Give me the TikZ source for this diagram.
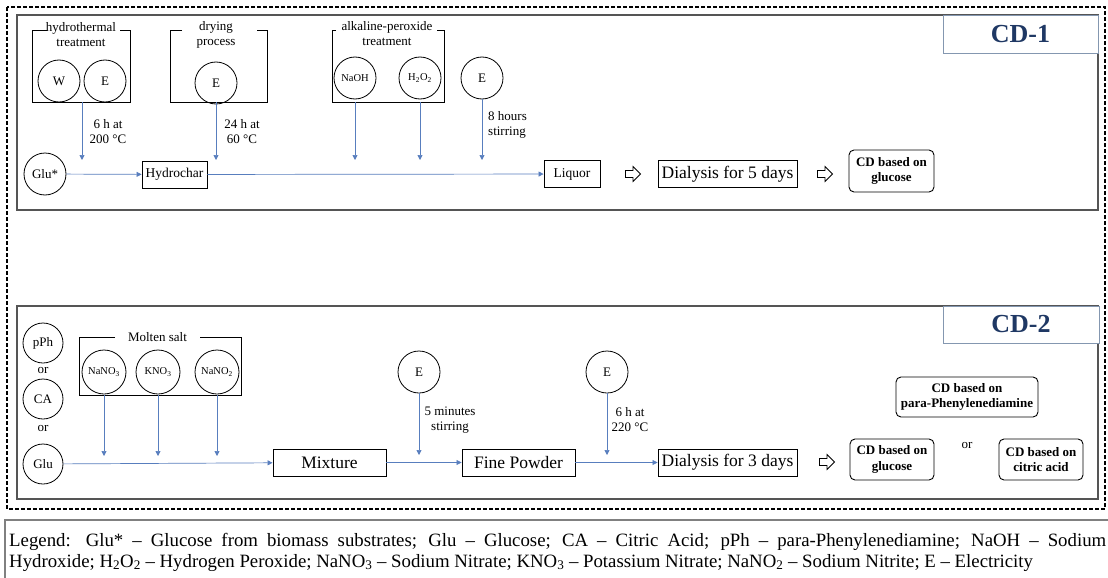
\documentclass[tikz,border=0pt]{standalone}
\usepackage{fontspec}
\setmainfont{Liberation Serif}
\usetikzlibrary{arrows.meta}
\definecolor{flowblue}{RGB}{88,126,190}
\definecolor{tabline}{RGB}{132,151,176}
\definecolor{navy}{RGB}{31,56,100}
\definecolor{panelgray}{RGB}{85,85,85}
\newcommand\fs[2]{\fontsize{#1}{#2}\selectfont}
\begin{document}
\begin{tikzpicture}[x=1pt,y=-1pt,
  circ/.style={circle,draw,line width=0.8pt,minimum size=42pt,inner sep=0pt,font=\fs{13}{15}},
  scirc/.style={circ,font=\fs{10.5}{12}},
  mcirc/.style={circ,minimum size=44pt,font=\fs{10.5}{12}},
  lcirc/.style={circ,minimum size=40pt},
  box/.style={draw,line width=0.9pt,inner sep=0pt,minimum height=27pt,font=\fs{13.5}{15}},
  bigbox/.style={box,font=\fs{17.5}{20}},
  cdbox/.style={draw,rounded corners=5pt,line width=0.9pt,inner sep=0pt,align=center,font=\bfseries\fs{13}{15.5}},
  grp/.style={draw,line width=0.9pt},
  lbl/.style={align=center,inner sep=0pt,font=\fs{13}{15}},
  flow/.style={draw=flowblue,line width=0.7pt,-{Triangle[length=5pt,width=5pt]}},
  hollowarr/.pic={\draw[line width=0.8pt,fill=white,line join=miter]
     (-7.5,-3.5) -- (0,-3.5) -- (0,-7.5) -- (7.5,0) -- (0,7.5) -- (0,3.5) -- (-7.5,3.5) -- cycle;},
  panel/.style={draw=panelgray,line width=1.6pt},
  tab/.style={draw=tabline,line width=0.9pt,fill=white,inner sep=0pt,text=navy,font=\bfseries\fs{26}{28}},
  legtext/.style={anchor=base west,inner sep=0pt,font=\fs{18.8}{21}}
]
\clip (0,0) rectangle (1108,578);
\fill[white] (0,0) rectangle (1108,578);

% outer dashed frame and panels
\draw[line width=1.1pt,dash pattern=on 4pt off 2pt] (7,7) rectangle (1105,509);
\draw[panel] (17,15) rectangle (1098,210);
\draw[panel] (17,306) rectangle (1098,499);
\node[tab,minimum width=155pt,minimum height=38pt] (cd1) at (1020.5,34) {CD-1};
\node[tab,minimum width=156pt,minimum height=37pt] (cd2) at (1021,324.5) {CD-2};

% ---------------- CD-1 ----------------
\draw[grp] (47,30) -- (32,30) -- (32,102) -- (130,102) -- (130,30) -- (120,30);
\node[lbl] (htl) at (81,35) {hydrothermal\\treatment};
\node[circ] (w) at (59,81) {W};
\node[circ] (e1) at (105,81) {E};
\coordinate (htb) at (82,102);
\coordinate (hte) at (82,160);

\draw[grp] (182,30) -- (170,30) -- (170,102) -- (267,102) -- (267,30) -- (257,30);
\node[lbl] (dpl) at (216,35) {drying\\process};
\node[circ] (e2) at (216,83) {E};
\coordinate (dpb) at (216,102);
\coordinate (dpe) at (216,160);

\draw[grp] (336,30) -- (332,30) -- (332,102) -- (444,102) -- (444,30) -- (437,30);
\node[lbl] (apl) at (387,34) {alkaline-peroxide\\treatment};
\node[scirc] (naoh) at (355,78) {NaOH};
\node[scirc] (h2o2) at (420,78) {H\textsubscript{2}O\textsubscript{2}};
\node[circ] (e3) at (482,78) {E};
\coordinate (nab) at (355,102);
\coordinate (nae) at (355,160);
\coordinate (hyb) at (420,102);
\coordinate (hye) at (420,160);
\coordinate (e3e) at (482,160);

\node[circ] (glus) at (45,174) {Glu*};
\node[box,minimum width=65pt] (hydrochar) at (174.5,174.5) {Hydrochar};
\node[box,minimum width=56pt] (liquor) at (572,174) {Liquor};
\node[bigbox,minimum width=139pt] (dial1) at (727.5,174) {Dialysis for 5 days};
\pic (ha1) at (633,174) {hollowarr};
\pic (ha2) at (825,174) {hollowarr};
\node[cdbox,minimum width=85pt,minimum height=42pt] (cdg1) at (891.5,171) {CD based on\\glucose};

\draw[flow] (htb) -- (hte);
\draw[flow] (dpb) -- (dpe);
\draw[flow] (nab) -- (nae);
\draw[flow] (hyb) -- (hye);
\draw[flow] (e3) -- (e3e);
\draw[flow] (glus) -- (hydrochar);
\draw[flow] (hydrochar) -- (liquor);

\node[lbl] (t1) at (108,132) {6 h at\\200 °C};
\node[lbl] (t2) at (242,132) {24 h at\\60 °C};
\node[lbl,align=left,anchor=west] (t3) at (488,125) {8 hours\\stirring};

% ---------------- CD-2 ----------------
\node[lcirc] (pph) at (43,343) {pPh};
\node[lbl] (or1) at (43,370) {or};
\node[lcirc] (ca) at (43,399) {CA};
\node[lbl] (or2) at (43,428) {or};
\node[lcirc] (glu) at (43,464) {Glu};

\draw[grp] (115,337) -- (79,337) -- (79,395) -- (241,395) -- (241,337) -- (200,337);
\node[lbl] (msl) at (157.5,337) {Molten salt};
\node[mcirc] (nano3) at (104,372) {NaNO\textsubscript{3}};
\node[mcirc] (kno3) at (158,372) {KNO\textsubscript{3}};
\node[mcirc] (nano2) at (217,372) {NaNO\textsubscript{2}};
\coordinate (n3b) at (104,395);
\coordinate (n3e) at (104,456);
\coordinate (k3b) at (158,395);
\coordinate (k3e) at (158,456);
\coordinate (n2b) at (217,395);
\coordinate (n2e) at (217,456);

\node[bigbox,minimum width=113pt] (mixture) at (329.5,462.5) {Mixture};
\node[bigbox,minimum width=113pt] (powder) at (518.5,462.5) {Fine Powder};
\node[bigbox,minimum width=139pt] (dial2) at (727.5,462.5) {Dialysis for 3 days};
\node[circ] (e4) at (419,372) {E};
\node[circ] (e5) at (607,372) {E};
\coordinate (e4e) at (419,455);
\coordinate (e5e) at (607,455);
\pic (ha3) at (827,462) {hollowarr};
\node[cdbox,minimum width=84pt,minimum height=41pt] (cdg2) at (892,459.5) {CD based on\\glucose};
\node[lbl] (or3) at (967,445) {or};
\node[cdbox,minimum width=84pt,minimum height=41pt] (cdc) at (1041,459.5) {CD based on\\citric acid};
\node[cdbox,minimum width=142pt,minimum height=40pt] (cdp) at (967,397) {CD based on\\para-Phenylenediamine};

\draw[flow] (n3b) -- (n3e);
\draw[flow] (k3b) -- (k3e);
\draw[flow] (n2b) -- (n2e);
\draw[flow] (e4) -- (e4e);
\draw[flow] (e5) -- (e5e);
\draw[flow] (glu) -- (mixture);
\draw[flow] (mixture) -- (powder);
\draw[flow] (powder) -- (dial2);

\node[lbl] (t4) at (450,420) {5 minutes\\stirring};
\node[lbl] (t5) at (630,420) {6 h at\\220 °C};

% ---------------- Legend ----------------
\draw[line width=1.5pt,draw=gray] (5,520) rectangle (1130,600);
\node[legtext] (leg1) at (9,546)
  {\makebox[1097pt][s]{Legend: Glu* -- Glucose from biomass substrates; Glu -- Glucose; CA -- Citric Acid; pPh -- para-Phenylenediamine; NaOH -- Sodium}};
\node[legtext] (leg2) at (9,567)
  {Hydroxide; H\textsubscript{2}O\textsubscript{2} -- Hydrogen Peroxide; NaNO\textsubscript{3} -- Sodium Nitrate; KNO\textsubscript{3} -- Potassium Nitrate; NaNO\textsubscript{2} -- Sodium Nitrite; E -- Electricity};
\end{tikzpicture}
\end{document}
